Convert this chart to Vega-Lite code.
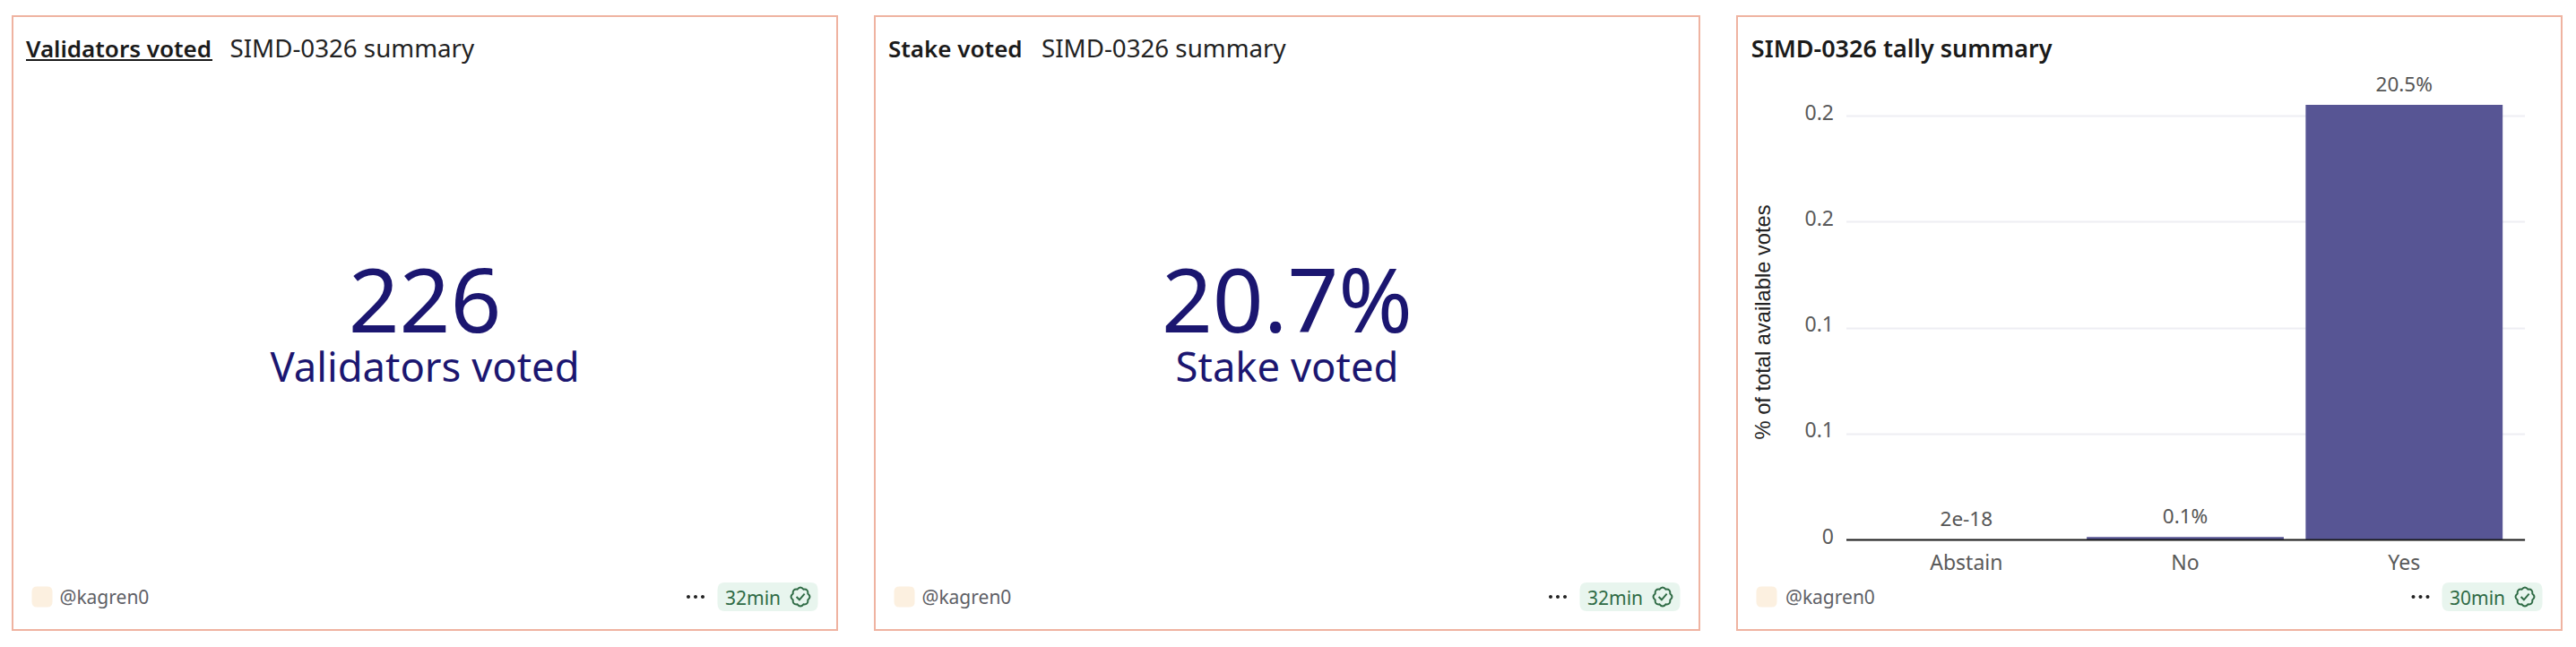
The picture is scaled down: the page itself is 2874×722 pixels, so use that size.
{
"$schema":"https://vega.github.io/schema/vega-lite/v6.json",
"padding":{"left":13,"top":17,"right":0,"bottom":0},
"background":"white",
"spacing":40,
"config":{"view":{"stroke":"#EFB3A1","strokeWidth":2},"text":{"font":"Noto Sans"},"axis":{"labelFont":"Noto Sans"}},
"hconcat":[
{"width":920,"height":685,
"data":{"values":[
{"id":1,"part":"title","text":"Validators voted"},
{"id":2,"part":"subtitle","text":"SIMD-0326 summary"},
{"id":3,"part":"value","text":"226"},
{"id":4,"part":"label","text":"Validators voted"},
{"id":5,"part":"author","text":"@kagren0"},
{"id":6,"part":"freshness","text":"32min"},
{"id":7,"part":"avatar"},
{"id":8,"part":"badge"},
{"id":9,"part":"icon"},
{"id":10,"part":"menu"},
{"id":11,"part":"underline"}
]},
"encoding":{
"x":{"field":"id","type":"quantitative","axis":null,"scale":{"domain":[1,2,3,4,5,6,7,8,9,10,11],"range":[15,242.5,460,460,52.5,795,33,842.5,879,762,119],"nice":false,"zero":false}},
"y":{"field":"id","type":"quantitative","axis":null,"scale":{"domain":[1,2,3,4,5,6,7,8,9,10,11],"range":[46,46,353,408.3,656,656.5,648,648,648,648,49],"nice":false,"zero":false}}
},
"layer":[
{"transform":[{"filter":"datum.part === 'avatar'"}],"mark":{"type":"point","filled":true,"opacity":1,"color":"#FCF0E0","size":529,"shape":"M-0.5 -1H0.5Q1 -1 1 -0.5V0.5Q1 1 0.5 1H-0.5Q-1 1 -1 0.5V-0.5Q-1 -1 -0.5 -1Z"}},
{"transform":[{"filter":"datum.part === 'badge'"}],"mark":{"type":"point","filled":true,"opacity":1,"color":"#E8F5EE","size":12544,"shape":"M-0.857 -0.2857H0.857Q1 -0.2857 1 -0.143V0.143Q1 0.2857 0.857 0.2857H-0.857Q-1 0.2857 -1 0.143V-0.143Q-1 -0.2857 -0.857 -0.2857Z"}},
{"transform":[{"filter":"datum.part === 'menu'"}],"mark":{"type":"point","filled":true,"opacity":1,"color":"#222222","size":400,"shape":"M-0.6 0A0.2 0.2 0 1 1 -1 0A0.2 0.2 0 1 1 -0.6 0ZM0.2 0A0.2 0.2 0 1 1 -0.2 0A0.2 0.2 0 1 1 0.2 0ZM1 0A0.2 0.2 0 1 1 0.6 0A0.2 0.2 0 1 1 1 0Z"}},
{"transform":[{"filter":"datum.part === 'underline'"}],"mark":{"type":"point","filled":true,"opacity":1,"color":"#1a1a1a","size":43264,"shape":"M-1 -0.0096H1V0.0096H-1Z"}},
{"transform":[{"filter":"datum.part === 'icon'"}],"mark":{"type":"point","filled":false,"opacity":1,"strokeWidth":2,"color":"#2f6b45","size":484,"shape":"M0.757 -0.314Q1.15 0 0.757 0.314Q0.813 0.813 0.314 0.757Q0 1.15 -0.314 0.757Q-0.813 0.813 -0.757 0.314Q-1.15 0 -0.757 -0.314Q-0.813 -0.813 -0.314 -0.757Q0 -1.15 0.314 -0.757Q0.813 -0.813 0.757 -0.314ZM-0.4 0L-0.1 0.3L0.42 -0.3"}},
{"transform":[{"filter":"datum.part === 'title'"}],"mark":{"type":"text","align":"left","baseline":"alphabetic","fontWeight":600,"fontSize":26,"color":"#1a1a1a"},"encoding":{"text":{"field":"text"}}},
{"transform":[{"filter":"datum.part === 'subtitle'"}],"mark":{"type":"text","align":"left","baseline":"alphabetic","fontSize":27.7,"color":"#222222"},"encoding":{"text":{"field":"text"}}},
{"transform":[{"filter":"datum.part === 'author'"}],"mark":{"type":"text","align":"left","baseline":"alphabetic","fontSize":21,"color":"#5e6066"},"encoding":{"text":{"field":"text"}}},
{"transform":[{"filter":"datum.part === 'freshness'"}],"mark":{"type":"text","align":"left","baseline":"alphabetic","fontSize":21,"color":"#2f6b45"},"encoding":{"text":{"field":"text"}}},
{"transform":[{"filter":"datum.part === 'value'"}],"mark":{"type":"text","align":"center","baseline":"alphabetic","fontSize":99.5,"color":"#1b1670"},"encoding":{"text":{"field":"text"}}},
{"transform":[{"filter":"datum.part === 'label'"}],"mark":{"type":"text","align":"center","baseline":"alphabetic","fontSize":45.4,"color":"#1b1670"},"encoding":{"text":{"field":"text"}}}
]},
{"width":920,"height":685,
"data":{"values":[
{"id":1,"part":"title","text":"Stake voted"},
{"id":2,"part":"subtitle","text":"SIMD-0326 summary"},
{"id":3,"part":"value","text":"20.7%"},
{"id":4,"part":"label","text":"Stake voted"},
{"id":5,"part":"author","text":"@kagren0"},
{"id":6,"part":"freshness","text":"32min"},
{"id":7,"part":"avatar"},
{"id":8,"part":"badge"},
{"id":9,"part":"icon"},
{"id":10,"part":"menu"}
]},
"encoding":{
"x":{"field":"id","type":"quantitative","axis":null,"scale":{"domain":[1,2,3,4,5,6,7,8,9,10],"range":[15,186,460,460,52.5,795,33,842.5,879,762],"nice":false,"zero":false}},
"y":{"field":"id","type":"quantitative","axis":null,"scale":{"domain":[1,2,3,4,5,6,7,8,9,10],"range":[46,46,353,408.3,656,656.5,648,648,648,648],"nice":false,"zero":false}}
},
"layer":[
{"transform":[{"filter":"datum.part === 'avatar'"}],"mark":{"type":"point","filled":true,"opacity":1,"color":"#FCF0E0","size":529,"shape":"M-0.5 -1H0.5Q1 -1 1 -0.5V0.5Q1 1 0.5 1H-0.5Q-1 1 -1 0.5V-0.5Q-1 -1 -0.5 -1Z"}},
{"transform":[{"filter":"datum.part === 'badge'"}],"mark":{"type":"point","filled":true,"opacity":1,"color":"#E8F5EE","size":12544,"shape":"M-0.857 -0.2857H0.857Q1 -0.2857 1 -0.143V0.143Q1 0.2857 0.857 0.2857H-0.857Q-1 0.2857 -1 0.143V-0.143Q-1 -0.2857 -0.857 -0.2857Z"}},
{"transform":[{"filter":"datum.part === 'menu'"}],"mark":{"type":"point","filled":true,"opacity":1,"color":"#222222","size":400,"shape":"M-0.6 0A0.2 0.2 0 1 1 -1 0A0.2 0.2 0 1 1 -0.6 0ZM0.2 0A0.2 0.2 0 1 1 -0.2 0A0.2 0.2 0 1 1 0.2 0ZM1 0A0.2 0.2 0 1 1 0.6 0A0.2 0.2 0 1 1 1 0Z"}},
{"transform":[{"filter":"datum.part === 'icon'"}],"mark":{"type":"point","filled":false,"opacity":1,"strokeWidth":2,"color":"#2f6b45","size":484,"shape":"M0.757 -0.314Q1.15 0 0.757 0.314Q0.813 0.813 0.314 0.757Q0 1.15 -0.314 0.757Q-0.813 0.813 -0.757 0.314Q-1.15 0 -0.757 -0.314Q-0.813 -0.813 -0.314 -0.757Q0 -1.15 0.314 -0.757Q0.813 -0.813 0.757 -0.314ZM-0.4 0L-0.1 0.3L0.42 -0.3"}},
{"transform":[{"filter":"datum.part === 'title'"}],"mark":{"type":"text","align":"left","baseline":"alphabetic","fontWeight":600,"fontSize":26,"color":"#1a1a1a"},"encoding":{"text":{"field":"text"}}},
{"transform":[{"filter":"datum.part === 'subtitle'"}],"mark":{"type":"text","align":"left","baseline":"alphabetic","fontSize":27.7,"color":"#222222"},"encoding":{"text":{"field":"text"}}},
{"transform":[{"filter":"datum.part === 'author'"}],"mark":{"type":"text","align":"left","baseline":"alphabetic","fontSize":21,"color":"#5e6066"},"encoding":{"text":{"field":"text"}}},
{"transform":[{"filter":"datum.part === 'freshness'"}],"mark":{"type":"text","align":"left","baseline":"alphabetic","fontSize":21,"color":"#2f6b45"},"encoding":{"text":{"field":"text"}}},
{"transform":[{"filter":"datum.part === 'value'"}],"mark":{"type":"text","align":"center","baseline":"alphabetic","fontSize":99.5,"color":"#1b1670"},"encoding":{"text":{"field":"text"}}},
{"transform":[{"filter":"datum.part === 'label'"}],"mark":{"type":"text","align":"center","baseline":"alphabetic","fontSize":45.4,"color":"#1b1670"},"encoding":{"text":{"field":"text"}}}
]},
{"width":920,"height":685,
"resolve":{"scale":{"x":"independent","y":"independent"}},
"layer":[
{"data":{"values":[
{"vote":"Abstain","share":2e-18,"shown":"2e-18"},
{"vote":"No","share":0.0012,"shown":"0.1%"},
{"vote":"Yes","share":0.2052,"shown":"20.5%"}
]},
"encoding":{
"x":{"field":"vote","type":"nominal","sort":null,"scale":{"range":[121.5,878.6],"paddingInner":0.1,"paddingOuter":0.1},
"axis":{"title":null,"offset":-101,"labelAngle":0,"ticks":false,"domainColor":"#1a1a1a","domainWidth":2,"labelFontSize":23,"labelColor":"#5a5a5a","labelPadding":15,"zindex":1}},
"y":{"field":"share","type":"quantitative","scale":{"domain":[0,0.2052],"range":[584,98.9],"nice":false},
"axis":{"title":"% of total available votes","values":[0,0.05,0.1,0.15,0.2],"labelExpr":"datum.value === 0 ? '0' : format(ceil(datum.value*10)/10, '.1f')","offset":-121.5,"domain":false,"ticks":false,"gridColor":"#EEEEF3","gridWidth":2,"grid":true,"labelFontSize":23,"labelColor":"#5a5a5a","labelPadding":14,"labelOffset":-3,"titleFont":"Liberation Sans","titleFontWeight":"normal","titleFontSize":23.7,"titleColor":"#222222","titleX":-92.5,"titleY":341,"titleAngle":-90,"titleAlign":"center","titleBaseline":"middle"}}
},
"layer":[
{"mark":{"type":"bar","color":"#575594"}},
{"mark":{"type":"text","baseline":"bottom","dy":-10,"fontSize":22.5,"color":"#555555"},"encoding":{"text":{"field":"shown"}}}
]},
{"data":{"values":[
{"id":1,"part":"title","text":"SIMD-0326 tally summary"},
{"id":2,"part":"author","text":"@kagren0"},
{"id":3,"part":"freshness","text":"30min"},
{"id":4,"part":"avatar"},
{"id":5,"part":"badge"},
{"id":6,"part":"icon"},
{"id":7,"part":"menu"}
]},
"encoding":{
"x":{"field":"id","type":"quantitative","axis":null,"scale":{"domain":[1,2,3,4,5,6,7],"range":[15.8,54,795,33,842.5,879,762.5],"nice":false,"zero":false}},
"y":{"field":"id","type":"quantitative","axis":null,"scale":{"domain":[1,2,3,4,5,6,7],"range":[46,656,656.5,648,648,648,648],"nice":false,"zero":false}}
},
"layer":[
{"transform":[{"filter":"datum.part === 'avatar'"}],"mark":{"type":"point","filled":true,"opacity":1,"color":"#FCF0E0","size":529,"shape":"M-0.5 -1H0.5Q1 -1 1 -0.5V0.5Q1 1 0.5 1H-0.5Q-1 1 -1 0.5V-0.5Q-1 -1 -0.5 -1Z"}},
{"transform":[{"filter":"datum.part === 'badge'"}],"mark":{"type":"point","filled":true,"opacity":1,"color":"#E8F5EE","size":12544,"shape":"M-0.857 -0.2857H0.857Q1 -0.2857 1 -0.143V0.143Q1 0.2857 0.857 0.2857H-0.857Q-1 0.2857 -1 0.143V-0.143Q-1 -0.2857 -0.857 -0.2857Z"}},
{"transform":[{"filter":"datum.part === 'menu'"}],"mark":{"type":"point","filled":true,"opacity":1,"color":"#222222","size":400,"shape":"M-0.6 0A0.2 0.2 0 1 1 -1 0A0.2 0.2 0 1 1 -0.6 0ZM0.2 0A0.2 0.2 0 1 1 -0.2 0A0.2 0.2 0 1 1 0.2 0ZM1 0A0.2 0.2 0 1 1 0.6 0A0.2 0.2 0 1 1 1 0Z"}},
{"transform":[{"filter":"datum.part === 'icon'"}],"mark":{"type":"point","filled":false,"opacity":1,"strokeWidth":2,"color":"#2f6b45","size":484,"shape":"M0.757 -0.314Q1.15 0 0.757 0.314Q0.813 0.813 0.314 0.757Q0 1.15 -0.314 0.757Q-0.813 0.813 -0.757 0.314Q-1.15 0 -0.757 -0.314Q-0.813 -0.813 -0.314 -0.757Q0 -1.15 0.314 -0.757Q0.813 -0.813 0.757 -0.314ZM-0.4 0L-0.1 0.3L0.42 -0.3"}},
{"transform":[{"filter":"datum.part === 'title'"}],"mark":{"type":"text","align":"left","baseline":"alphabetic","fontWeight":600,"fontSize":27,"color":"#1a1a1a"},"encoding":{"text":{"field":"text"}}},
{"transform":[{"filter":"datum.part === 'author'"}],"mark":{"type":"text","align":"left","baseline":"alphabetic","fontSize":21,"color":"#5e6066"},"encoding":{"text":{"field":"text"}}},
{"transform":[{"filter":"datum.part === 'freshness'"}],"mark":{"type":"text","align":"left","baseline":"alphabetic","fontSize":21,"color":"#2f6b45"},"encoding":{"text":{"field":"text"}}}
]}
]}
]
}
